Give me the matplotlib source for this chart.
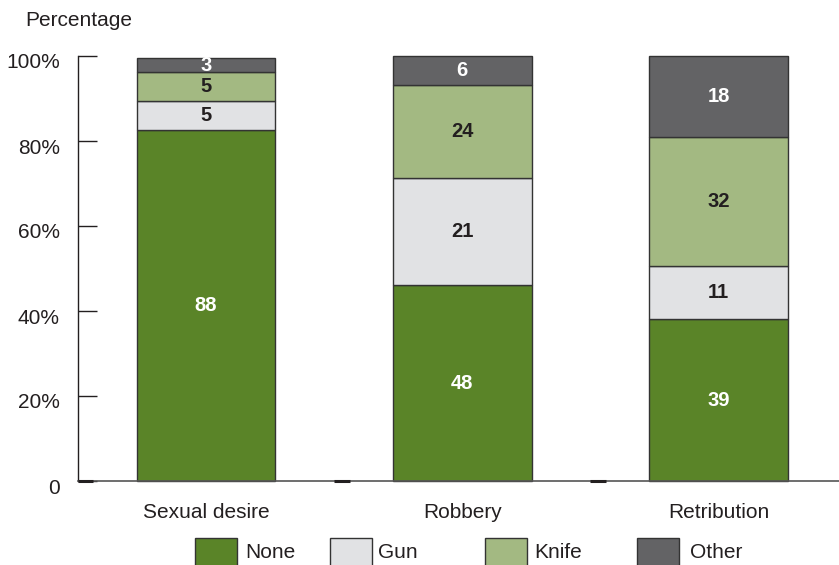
import matplotlib
matplotlib.use("Agg")
import matplotlib.pyplot as plt
import matplotlib.transforms as mtransforms
from matplotlib.patches import Rectangle
import numpy as np

plt.rcParams['font.family'] = ['Liberation Sans', 'DejaVu Sans']

# data
motives = ['Sexual desire', 'Robbery', 'Retribution']
weapons = ['None', 'Gun', 'Knife', 'Other']
# segment heights as drawn (percent)
none_h = [82.5, 46.1, 38.1]
gun_h = [6.8, 25.2, 12.4]
knife_h = [6.9, 21.8, 30.4]
other_h = [3.3, 6.9, 19.1]
# printed labels
none_lbl = [88, 48, 39]
gun_lbl = [5, 21, 11]
knife_lbl = [5, 24, 32]
other_lbl = [3, 6, 18]
yticks = [0, 20, 40, 60, 80, 100]
ytick_labels = ['0', '20%', '40%', '60%', '80%', '100%']

colors = ['#5a8428', '#e1e2e4', '#a3b982', '#636365']
text_colors = ['white', '#231f20', '#231f20', 'white']

fig = plt.figure(figsize=(8.39, 5.65), dpi=100)
ax = fig.add_axes([78/839, 1 - 481/565, 761/839, 425/565])

x = np.arange(len(motives))
heights = [none_h, gun_h, knife_h, other_h]
labels = [none_lbl, gun_lbl, knife_lbl, other_lbl]
bottom = np.zeros(len(motives))
for h, lbl, c, tc in zip(heights, labels, colors, text_colors):
    h = np.array(h)
    ax.bar(x, h, width=0.54, bottom=bottom, color=c, edgecolor='#333333',
           linewidth=1.0, zorder=2, clip_on=False)
    for xi, b, hi, l in zip(x, bottom, h, lbl):
        ax.text(xi, b + hi / 2, str(l), ha='center', va='center',
                color=tc, fontsize=14.5, fontweight='bold', zorder=3)
    bottom += h

ax.set_xlim(-0.5, 2.47)
ax.set_ylim(0, 100)

for s in ['top', 'right']:
    ax.spines[s].set_visible(False)
ax.spines['left'].set_color('#231f20')
ax.spines['left'].set_linewidth(1.0)
ax.spines['bottom'].set_color('#555555')
ax.spines['bottom'].set_linewidth(1.2)

ax.set_yticks(yticks)
ax.set_yticklabels(ytick_labels)
ax.tick_params(axis='y', direction='in', length=14, width=1.0, color='#231f20',
               labelsize=15, labelcolor='#231f20', pad=13)
offset = mtransforms.ScaledTranslation(0, -5/100, fig.dpi_scale_trans)
for t in ax.get_yticklabels():
    t.set_transform(t.get_transform() + offset)

ax.set_xticks(x)
ax.set_xticklabels(motives)
ax.tick_params(axis='x', length=0, labelsize=15, labelcolor='#231f20', pad=16)

# short dark marks on baseline at category boundaries
for b in [-0.5, 0.5, 1.5]:
    ax.hlines(0, b, b + 0.06, color='#231f20', linewidth=2.2, zorder=4, clip_on=False)

fig.text(25/839, 1 - 20/565, 'Percentage', fontsize=15, color='#231f20',
         ha='left', va='center')

# legend
patch_x = [195, 330, 485, 637]
text_x = [245, 378, 534, 690]
for px, tx, c, name in zip(patch_x, text_x, colors, weapons):
    fig.add_artist(Rectangle((px/839, 1 - 566/565), 42/839, 28/565,
                             transform=fig.transFigure, facecolor=c,
                             edgecolor='#333333', linewidth=1.0))
    fig.text(tx/839, 1 - 553/565, name, fontsize=15, color='#231f20',
             ha='left', va='center')

fig.savefig('out.png', dpi=100)
